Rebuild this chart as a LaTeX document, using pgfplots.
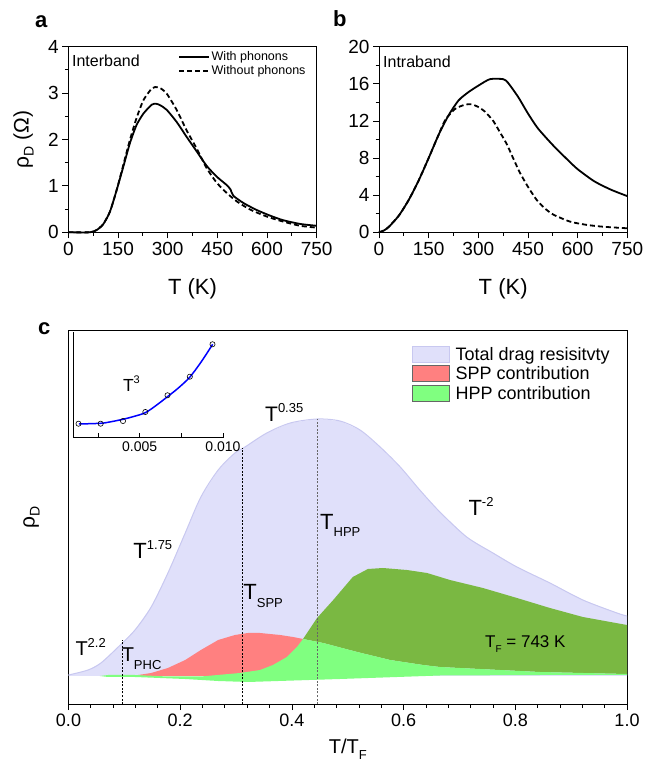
\documentclass[border=0pt]{standalone}
\usepackage{fontspec}
\setmainfont{Liberation Sans}
\usepackage{pgfplots}
\pgfplotsset{compat=1.18}
\definecolor{lav}{HTML}{E0E0FA}
\definecolor{lavline}{HTML}{C8C8F0}
\definecolor{sppred}{HTML}{FF8080}
\definecolor{hppgreen}{HTML}{80FF80}
\definecolor{darkgreen}{HTML}{7AB842}
\newcommand{\fs}[1]{\fontsize{#1}{#1}\selectfont}
% T with a raised/lowered script: T size, script size, script, raise
\newcommand{\TT}[4]{{\fs{#1}T\raisebox{#4}{\fs{#2}#3}}}

\pgfplotsset{
  panel/.style={
    anchor=south west, scale only axis,
    axis line style={line width=1pt},
    every tick/.style={black, line width=0.8pt},
    major tick length=6pt, minor tick length=3.5pt,
    tick align=outside, xtick pos=left, ytick pos=left,
    tick label style={font=\fs{19}},
    /pgf/number format/assume math mode=true,
    clip=false,
  },
}

\begin{document}
\begin{tikzpicture}
\useasboundingbox (0pt,0pt) rectangle (647pt,770pt);

\node[anchor=base west, inner sep=0, font=\fs{22}\bfseries] at (35pt,742pt) {a};
\node[anchor=base west, inner sep=0, font=\fs{22}\bfseries] at (333pt,743pt) {b};
\node[anchor=base west, inner sep=0, font=\fs{22}\bfseries] at (38pt,435pt) {c};

% ---- panel a
\begin{axis}[panel,
  at={(68.3pt,537.7pt)}, width=248.4pt, height=185.6pt,
  xmin=0, xmax=750, ymin=0, ymax=4,
  xtick={0,150,300,450,600,750}, ytick={0,1,2,3,4},
  minor x tick num=1, minor y tick num=1,
  xlabel={T (K)},
  xlabel style={at={([yshift=-62.7pt]axis description cs:0.5,0)}, anchor=base, font=\fs{22}},
  ylabel={ρ\raisebox{-5pt}{\fs{14}D} (Ω)},
  ylabel style={at={([xshift=-44.8pt]axis description cs:0,0.5)}, anchor=center, font=\fs{21}},
  legend image code/.code={\draw[#1] (0pt,0pt) -- (30pt,0pt);},
  legend style={at={(0.442,0.982)}, anchor=north west, draw=none, fill=none,
    font=\fs{12.5}, inner sep=0pt, nodes={inner sep=1.6pt}},
  legend cell align=left,
]
\addplot[black, line width=1.8pt, smooth, tension=0.4] coordinates {
(0,0) (65,0) (86,0.05) (106,0.18) (126,0.45) (146,0.91) (166,1.41) (186,1.92)
(206,2.31) (227,2.56) (252,2.75) (265,2.77) (277,2.74) (297,2.64) (327,2.38)
(357,2.06) (388,1.74) (418,1.43) (448,1.20) (478,1.02) (490,0.92) (498,0.79)
(529,0.63) (569,0.48) (609,0.36) (649,0.26) (700,0.18) (750,0.14)};
\addlegendentry{With phonons}
\addplot[black, line width=1.8pt, dash pattern=on 5pt off 3pt, smooth, tension=0.4] coordinates {
(0,0) (65,0) (86,0.05) (106,0.18) (126,0.45) (146,0.91) (166,1.45) (186,1.99)
(206,2.46) (227,2.85) (252,3.10) (262,3.13) (277,3.11) (297,2.99) (327,2.64)
(357,2.20) (388,1.80) (418,1.38) (448,1.07) (478,0.85) (508,0.67) (549,0.49)
(599,0.34) (649,0.23) (700,0.14) (750,0.10)};
\addlegendentry{Without phonons}
\node[anchor=base west, inner sep=0, font=\fs{16}] at (axis cs:11,3.58) {Interband};
\end{axis}

% ---- panel b
\begin{axis}[panel,
  at={(379pt,537.7pt)}, width=248.3pt, height=185.6pt,
  xmin=0, xmax=750, ymin=0, ymax=20,
  xtick={0,150,300,450,600,750}, ytick={0,4,8,12,16,20},
  minor x tick num=1, minor y tick num=1,
  xlabel={T (K)},
  xlabel style={at={([yshift=-62.7pt]axis description cs:0.5,0)}, anchor=base, font=\fs{22}},
]
\addplot[black, line width=1.8pt, smooth, tension=0.4] coordinates {
(0,0) (15,0.2) (30,0.6) (60,1.8) (90,3.5) (120,5.6) (150,8.0) (180,10.5)
(210,12.6) (240,14.2) (270,15.1) (300,15.8) (335,16.5) (375,16.5) (390,16.1)
(420,14.6) (450,12.8) (480,11.2) (525,9.4) (570,7.8) (600,6.8) (650,5.5)
(700,4.6) (750,3.9)};
\addplot[black, line width=1.8pt, dash pattern=on 5pt off 3pt, smooth, tension=0.4] coordinates {
(0,0) (15,0.2) (30,0.6) (60,1.8) (90,3.5) (120,5.6) (150,8.0) (180,10.5)
(200,12.1) (230,13.3) (260,13.75) (280,13.8) (300,13.5) (320,13.0) (345,12.0) (365,10.8)
(386,9.5) (405,8.0) (426,6.4) (450,4.9) (476,3.5) (500,2.6) (527,1.9)
(577,1.15) (627,0.8) (677,0.6) (750,0.43)};
\node[anchor=base west, inner sep=0, font=\fs{16}] at (axis cs:12,17.8) {Intraband};
\end{axis}

% ---- panel c
\begin{axis}[panel,
  at={(68.5pt,66pt)}, width=558.5pt, height=373pt,
  xmin=0, xmax=1, ymin=0, ymax=373,
  xtick={0,0.2,0.4,0.6,0.8,1}, ytick=\empty, minor x tick num=4,
  tick label style={font=\fs{18}},
  xticklabel style={/pgf/number format/.cd, fixed, fixed zerofill, precision=1},
  xlabel={T/T\raisebox{-6pt}{\fs{13}F}},
  xlabel style={at={([yshift=-49pt]axis description cs:0.5,0)}, anchor=base, font=\fs{20}},
  ylabel={ρ\raisebox{-5pt}{\fs{14}D}},
  ylabel style={at={([xshift=-37pt]axis description cs:0,0.5)}, anchor=center, font=\fs{21}},
  legend image code/.code={\draw[#1] (0pt,-7.5pt) rectangle (37pt,8.5pt);},
  legend style={at={(0.615,0.962)}, anchor=north west, draw=none, fill=none,
    font=\fs{18}, inner sep=0pt, nodes={inner sep=2pt}, row sep=1pt,
    /tikz/every odd column/.append style={column sep=4pt}},
  legend cell align=left,
]
% total drag resistivity
\addplot[forget plot, fill=lav, draw=none] coordinates {
(0,29) (0.035,34) (0.058,41) (0.089,57) (0.119,74) (0.148,97) (0.178,131)
(0.209,171) (0.237,207) (0.268,234) (0.298,251) (0.316,257) (0.355,271)
(0.397,281) (0.445,285) (0.486,283) (0.522,274) (0.558,257) (0.594,237)
(0.629,214) (0.665,192) (0.713,167) (0.760,151) (0.803,137) (0.862,121)
(0.921,104) (0.982,91) (1.0,88) (1.0,28) (0,28)};
\addplot[forget plot, lavline, line width=1pt, smooth, tension=0.5] coordinates {
(0,29) (0.035,34) (0.058,41) (0.089,57) (0.119,74) (0.148,97) (0.178,131)
(0.209,171) (0.237,207) (0.268,234) (0.298,251) (0.316,257) (0.355,271)
(0.397,281) (0.445,285) (0.486,283) (0.522,274) (0.558,257) (0.594,237)
(0.629,214) (0.665,192) (0.713,167) (0.760,151) (0.803,137) (0.862,121)
(0.921,104) (0.982,91) (1.0,88)};
% SPP
\addplot[forget plot, fill=sppred, draw=none] coordinates {
(0.105,28) (0.119,28.5) (0.148,31) (0.178,36) (0.209,44) (0.237,54) (0.268,64)
(0.298,69) (0.321,71) (0.343,71) (0.379,69) (0.402,67) (0.420,65) (0.420,28)};
% HPP, upper (dark) part
\addplot[forget plot, fill=darkgreen, draw=none] coordinates {
(0.420,65) (0.445,86) (0.474,104) (0.509,127) (0.536,135) (0.563,136)
(0.606,134) (0.642,131) (0.683,124) (0.742,116) (0.803,106) (0.862,96)
(0.921,87) (1.0,79)
(1.0,30) (0.844,32) (0.665,37) (0.635,39) (0.576,44) (0.517,52) (0.456,61)
(0.420,65)};
% HPP, light part
\addplot[forget plot, fill=hppgreen, draw=none] coordinates {
(0.056,28) (0.071,29) (0.119,29) (0.178,27.5) (0.237,27.5) (0.307,31) (0.343,34)
(0.366,39) (0.391,47) (0.409,57) (0.420,65) (0.456,61) (0.517,52) (0.576,44)
(0.635,39) (0.665,37) (0.844,32) (1.0,30)
(1.0,29) (0.844,29) (0.665,28.5) (0.486,25) (0.321,22) (0.268,23) (0.209,25)
(0.119,27) (0.071,27) (0.056,28)};
% characteristic temperatures
\addplot[forget plot, black, line width=0.8pt, dash pattern=on 2pt off 1.5pt]
  coordinates {(0.096,0) (0.096,64)};
\addplot[forget plot, black, line width=0.8pt, dash pattern=on 2pt off 1.5pt]
  coordinates {(0.312,0) (0.312,256)};
\addplot[forget plot, black!60, line width=1pt, dash pattern=on 2pt off 1.5pt]
  coordinates {(0.445,0) (0.445,285)};

\addlegendimage{fill=lav, draw=lavline}
\addlegendentry{Total drag resisitvty}
\addlegendimage{fill=sppred, draw=black!60}
\addlegendentry{SPP contribution}
\addlegendimage{fill=hppgreen, draw=black!60}
\addlegendentry{HPP contribution}

\node[anchor=base west, inner sep=0] at (axis cs:0.0122,48) {\TT{20}{13}{2.2}{8.5pt}};
\node[anchor=base west, inner sep=0] at (axis cs:0.095,42.3) {\TT{20}{13}{PHC}{-7.5pt}};
\node[anchor=base west, inner sep=0] at (axis cs:0.116,145) {\TT{22}{13}{1.75}{9pt}};
\node[anchor=base west, inner sep=0] at (axis cs:0.3129,104) {\TT{22}{13}{SPP}{-7.5pt}};
\node[anchor=base west, inner sep=0] at (axis cs:0.4503,174.7) {\TT{22}{13}{HPP}{-7.5pt}};
\node[anchor=base west, inner sep=0] at (axis cs:0.3518,282.3) {\TT{21}{13}{0.35}{9pt}};
\node[anchor=base west, inner sep=0] at (axis cs:0.7159,188.3) {\TT{22}{13}{-2}{9pt}};
\node[anchor=base west, inner sep=0] at (axis cs:0.7458,56.7) {\TT{17}{10}{F}{-5pt}{\fs{17} = 743 K}};
\end{axis}

% ---- inset
\begin{axis}[
  at={(73pt,332pt)}, anchor=south west, scale only axis,
  width=150pt, height=106pt,
  xmin=0.001, xmax=0.010, ymin=0, ymax=106,
  axis lines=left, axis line style={-, line width=1pt},
  every tick/.style={black, line width=0.8pt},
  major tick length=5pt, tick align=inside,
  xtick={0.0025,0.005,0.0075,0.010}, xticklabels={,0.005,,0.010},
  scaled x ticks=false,
  ytick=\empty,
  tick label style={font=\fs{14}},
  clip=false,
]
\addplot[blue, line width=1.5pt, smooth] coordinates {
(0.00135,14) (0.00265,14.7) (0.0032,16) (0.004,18.7) (0.0046,21.3) (0.00534,25.3)
(0.0060,32.7) (0.00667,41.3) (0.0073,49.7) (0.008,60.7) (0.0087,76.3) (0.00938,93.7)};
\addplot[only marks, mark=o, mark size=2.6pt, black, line width=0.6pt] coordinates {
(0.00133,14.3) (0.00266,14.3) (0.004,17) (0.00534,26) (0.00667,42.7)
(0.00801,61.3) (0.00937,93.7)};
\node[anchor=base west, inner sep=0] at (axis cs:0.00399,46.3) {\TT{17.5}{11}{3}{8pt}};
\end{axis}
\end{tikzpicture}
\end{document}
